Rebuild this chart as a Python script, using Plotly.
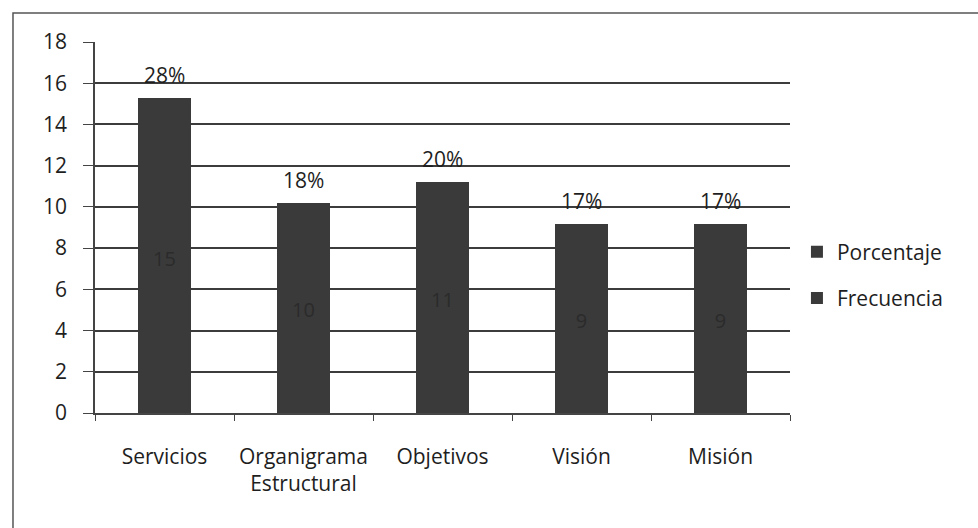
import plotly.graph_objects as go

categorias = ["Servicios", "Organigrama<br>Estructural", "Objetivos", "Visión", "Misión"]
frecuencia = [15, 10, 11, 9, 9]
porcentaje = [0.28, 0.18, 0.20, 0.17, 0.17]

BAR = "#3a3a3a"
INK = "#1e1e1e"
FONT = "Open Sans, Liberation Sans, sans-serif"
SIZE = 21

fig = go.Figure()
fig.add_trace(go.Bar(
    x=categorias, y=frecuencia, name="Frecuencia",
    legendgroup="f", legendrank=2,
    marker=dict(color=BAR, line=dict(width=0)),
    text=[str(v) for v in frecuencia], textposition="inside",
    insidetextanchor="middle",
    textfont=dict(color="#2b2b2b", size=20, family=FONT),
))
fig.add_trace(go.Bar(
    x=categorias, y=porcentaje, name="Porcentaje",
    legendgroup="p", legendrank=1,
    marker=dict(color=BAR, line=dict(width=0)),
))

# percentage labels above each stacked column
for c, f, p in zip(categorias, frecuencia, porcentaje):
    fig.add_annotation(
        x=c, y=f + p, text=f"{round(p * 100)}%", showarrow=False,
        yanchor="bottom", yshift=7,
        font=dict(size=SIZE, color=INK, family=FONT),
    )

# outer chart frame
fig.add_shape(type="rect", xref="paper", yref="paper",
              x0=-0.118, x1=1.5, y0=-0.6, y1=1.078,
              line=dict(color="#555555", width=1.5), layer="below")

fig.update_layout(
    barmode="stack", bargap=0.62,
    width=978, height=528,
    margin=dict(l=95, r=188, t=42, b=115),
    paper_bgcolor="white", plot_bgcolor="white",
    font=dict(family=FONT, size=SIZE, color=INK),
    showlegend=True,
    legend=dict(x=1.01, y=0.372, xanchor="left", yanchor="middle",
                traceorder="grouped", tracegroupgap=16,
                itemwidth=30,
                font=dict(size=SIZE, color=INK),
                bgcolor="rgba(0,0,0,0)"),
    xaxis=dict(
        showline=True, linecolor="#444444", linewidth=1.5,
        ticks="outside", tickson="boundaries", ticklen=6,
        tickcolor="#444444", showgrid=False,
        ticklabelstandoff=24,
        tickfont=dict(size=SIZE, color=INK),
    ),
    yaxis=dict(
        range=[0, 18], dtick=2, showline=True, linecolor="#444444",
        linewidth=1.5, ticks="outside", ticklen=10, tickcolor="#444444",
        showgrid=True, gridcolor="#3c3c3c", gridwidth=1.5,
        ticklabelstandoff=12,
        zeroline=False, tickfont=dict(size=SIZE, color=INK),
    ),
)

fig.write_html("out.html")
